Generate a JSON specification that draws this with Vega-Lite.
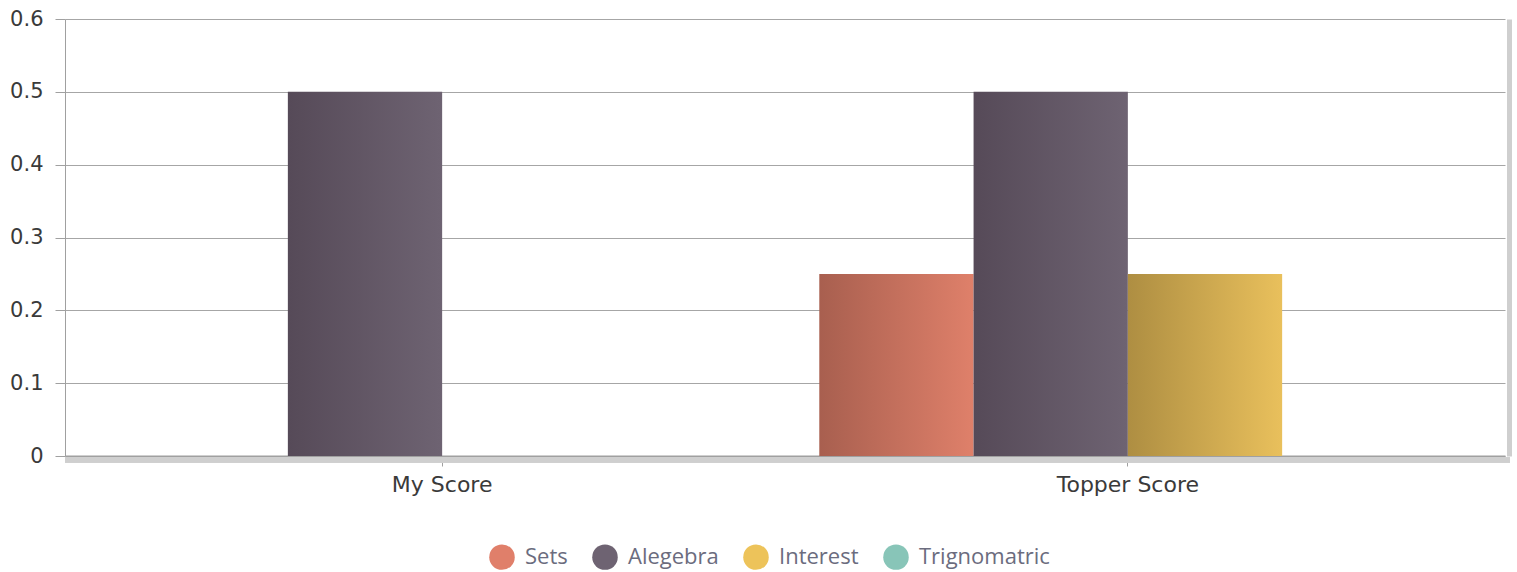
{
  "$schema": "https://vega.github.io/schema/vega-lite/v6.json",
  "width": 1440,
  "height": 437,
  "autosize": {"type": "none"},
  "padding": {"left": 65, "top": 19, "right": 12, "bottom": 116},
  "background": "white",
  "config": {
    "view": {"stroke": null},
    "axis": {"labelFont": "DejaVu Sans", "labelColor": "#3a3a3a", "title": null}
  },
  "data": {
    "values": [
      {"category": "My Score", "series": "Sets", "value": 0},
      {"category": "My Score", "series": "Alegebra", "value": 0.5},
      {"category": "My Score", "series": "Interest", "value": 0},
      {"category": "My Score", "series": "Trignomatric", "value": 0},
      {"category": "Topper Score", "series": "Sets", "value": 0.25},
      {"category": "Topper Score", "series": "Alegebra", "value": 0.5},
      {"category": "Topper Score", "series": "Interest", "value": 0.25},
      {"category": "Topper Score", "series": "Trignomatric", "value": 0}
    ]
  },
  "encoding": {
    "x": {
      "field": "category", "type": "nominal", "sort": null,
      "scale": {"paddingInner": 0.1, "paddingOuter": 0.1},
      "axis": {"labelAngle": 0, "labelFontSize": 22, "domainColor": "#a0a0a0", "domainWidth": 2, "tickColor": "#a0a0a0", "tickSize": 10, "labelPadding": 8}
    },
    "xOffset": {
      "field": "series", "type": "nominal",
      "scale": {"domain": ["Sets", "Alegebra", "Interest", "Trignomatric"], "paddingInner": 0, "paddingOuter": 0}
    }
  },
  "layer": [
    {
      "mark": {"type": "rule", "color": "#cfcfcf", "strokeWidth": 5, "yOffset": 4, "xOffset": 5},
      "encoding": {"y": {"datum": 0, "type": "quantitative", "axis": null}, "x": null, "xOffset": null}
    },
    {
      "transform": [{"filter": "datum.series == 'Sets'"}],
      "mark": {"type": "bar", "color": {"gradient": "linear", "x1": 0, "x2": 1, "y1": 0, "y2": 0, "stops": [{"offset": 0, "color": "#a85f4f"}, {"offset": 1, "color": "#df806a"}]}},
      "encoding": {
        "y": {
          "field": "value", "type": "quantitative",
          "scale": {"domain": [0, 0.6], "nice": false},
          "axis": {"orient": "left", "values": [0, 0.1, 0.2, 0.3, 0.4, 0.5, 0.6], "labelFontSize": 21, "domainColor": "#a0a0a0", "tickColor": "#a0a0a0", "tickSize": 10, "labelPadding": 12, "grid": true, "gridColor": "#a6a6a6", "format": "~g"}
        }
      }
    },
    {
      "transform": [{"filter": "datum.series == 'Alegebra'"}],
      "mark": {"type": "bar", "color": {"gradient": "linear", "x1": 0, "x2": 1, "y1": 0, "y2": 0, "stops": [{"offset": 0, "color": "#564a58"}, {"offset": 1, "color": "#6e6372"}]}},
      "encoding": {"y": {"field": "value", "type": "quantitative", "axis": null}}
    },
    {
      "transform": [{"filter": "datum.series == 'Interest'"}],
      "mark": {"type": "bar", "color": {"gradient": "linear", "x1": 0, "x2": 1, "y1": 0, "y2": 0, "stops": [{"offset": 0, "color": "#ae8e42"}, {"offset": 1, "color": "#e9c05c"}]}},
      "encoding": {"y": {"field": "value", "type": "quantitative", "axis": null}}
    },
    {
      "transform": [{"filter": "datum.series == 'Trignomatric'"}],
      "mark": {"type": "bar", "color": {"gradient": "linear", "x1": 0, "x2": 1, "y1": 0, "y2": 0, "stops": [{"offset": 0, "color": "#6fa89a"}, {"offset": 1, "color": "#88c5b8"}]}},
      "encoding": {"y": {"field": "value", "type": "quantitative", "axis": null}}
    },
    {
      "mark": {"type": "circle", "size": 0, "opacity": 1},
      "encoding": {
        "color": {
          "field": "series", "type": "nominal",
          "scale": {"domain": ["Sets", "Alegebra", "Interest", "Trignomatric"], "range": ["#e07f6a", "#6e6372", "#edc35a", "#88c5b8"]},
          "legend": {
            "title": null, "orient": "none", "direction": "horizontal", "legendX": 424, "legendY": 525,
            "symbolType": "circle", "symbolSize": 650, "symbolOpacity": 1, "symbolStrokeWidth": 0,
            "labelFont": "Open Sans", "labelFontSize": 22, "labelColor": "#6b6c7e", "labelOffset": 10,
            "columnPadding": 24, "padding": 0
          }
        },
        "y": {
          "field": "value", "type": "quantitative",
          "axis": {"orient": "right", "values": [], "labels": false, "ticks": false, "grid": false, "domainColor": "#cfcfcf", "domainWidth": 5, "offset": 4}
        }
      }
    }
  ],
  "resolve": {"axis": {"y": "independent"}}
}
